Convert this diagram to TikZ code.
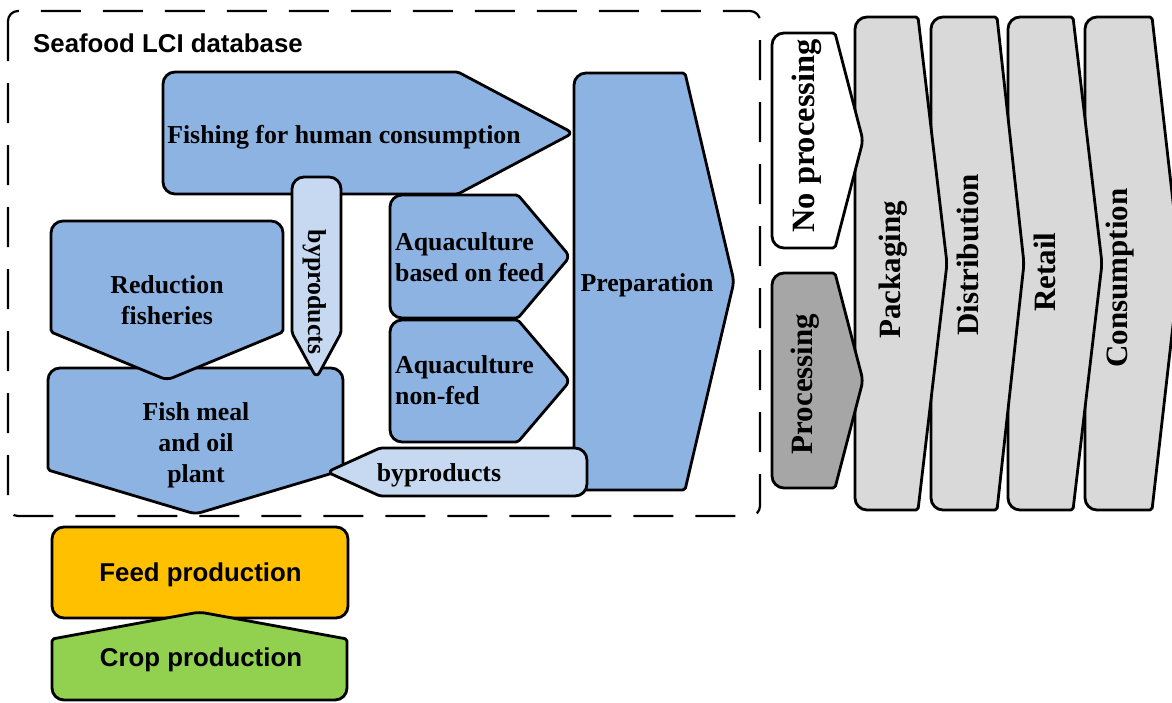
\documentclass[tikz,border=0pt]{standalone}
\usepackage{fontspec}
\setmainfont{Liberation Serif}
\newfontfamily\sansfont{Liberation Sans}
\definecolor{blueF}{HTML}{8DB3E2}
\definecolor{byF}{HTML}{C6D9F1}
\definecolor{greyF}{HTML}{D9D9D9}
\definecolor{darkF}{HTML}{A6A6A6}
\definecolor{feedF}{HTML}{FFC000}
\definecolor{cropF}{HTML}{92D050}
% right-pointing arrow: opts, left x, top y, shoulder x, tip x, bottom y
\newcommand\myrarrow[6]{%
  \path[#1] (#2,{(#3+#6)/2}) [bigrc] -- (#2,#3) -- ({(#2+#4)/2},#3) [smallrc] -- (#4,#3)
   -- ({(#4+#5)/2},{(3*#3+#6)/4}) [tiprc] -- (#5,{(#3+#6)/2})
   -- ({(#4+#5)/2},{(#3+3*#6)/4}) [smallrc] -- (#4,#6) -- ({(#2+#4)/2},#6) [bigrc] -- (#2,#6) -- cycle;}
% down-pointing arrow: opts, left x, top y, right x, shoulder y, tip y
\newcommand\mydarrow[6]{%
  \path[#1] ({(#2+#4)/2},#3) [bigrc] -- (#4,#3) -- (#4,{(#3+#5)/2}) [smallrc] -- (#4,#5)
   -- ({(3*#4+#2)/4},{(#5+#6)/2}) [tiprc] -- ({(#2+#4)/2},#6)
   -- ({(#4+3*#2)/4},{(#5+#6)/2}) [smallrc] -- (#2,#5) -- (#2,{(#3+#5)/2}) [bigrc] -- (#2,#3) -- cycle;}
% left-pointing arrow: opts, right x, top y, shoulder x, tip x, bottom y
\newcommand\mylarrow[6]{%
  \path[#1] (#2,{(#3+#6)/2}) [bigrc] -- (#2,#6) -- ({(#2+#4)/2},#6) [smallrc] -- (#4,#6)
   -- ({(#4+#5)/2},{(#3+3*#6)/4}) [tiprc] -- (#5,{(#3+#6)/2})
   -- ({(#4+#5)/2},{(3*#3+#6)/4}) [smallrc] -- (#4,#3) -- ({(#2+#4)/2},#3) [bigrc] -- (#2,#3) -- cycle;}
\begin{document}
\begin{tikzpicture}[x=1pt,y=-1pt,
  shp/.style={draw=black,line width=2.8pt,line join=round},
  bigrc/.style={rounded corners=12pt},
  smallrc/.style={rounded corners=2pt},
  tiprc/.style={rounded corners=6pt},
  tx/.style={inner sep=0pt,font=\bfseries\fontsize{25.8}{31}\selectfont},
  stx/.style={inner sep=0pt,font=\sansfont\bfseries\fontsize{25.8}{31}\selectfont},
  rtx/.style={inner sep=0pt,rotate=90,font=\bfseries\fontsize{31}{35}\selectfont}]
\useasboundingbox (0,0) rectangle (1172,702);

% dashed database frame
\draw[line width=2.2pt,dash pattern=on 40pt off 22pt,rounded corners=10pt] (8,11) rectangle (760,516);

% seafood LCI shapes
\myrarrow{shp,fill=blueF}{163}{72}{458}{573}{194}
\myrarrow{shp,fill=blueF}{574}{73}{685}{734}{490}
\mydarrow{shp,fill=blueF}{48}{368}{343}{470}{514}
\mydarrow{shp,fill=blueF}{51}{221}{283}{332}{380}
\mydarrow{shp,fill=byF}{292}{177}{341}{333}{378}
\myrarrow{shp,fill=blueF}{390}{195}{518}{570}{318}
\myrarrow{shp,fill=blueF}{390}{320}{518}{570}{442}
\mylarrow{shp,fill=byF}{587}{448}{380}{327}{496}

% downstream chain
\myrarrow{shp,fill=greyF}{1085}{17}{1152}{1180}{510}
\myrarrow{shp,fill=greyF}{1008}{17}{1073}{1102}{510}
\myrarrow{shp,fill=greyF}{931}{17}{997}{1024}{510}
\myrarrow{shp,fill=greyF}{855}{17}{918}{947}{510}
\myrarrow{shp,fill=white}{772}{33}{835}{863}{248}
\myrarrow{shp,fill=darkF}{772}{273}{835}{863}{488}

% feed and crop
\draw[shp,fill=feedF,rounded corners=12pt] (52,527) rectangle (348,618);
\mydarrow{shp,fill=cropF}{52}{700}{347}{639}{612}

% texts
\node[stx,anchor=base west] (title) at (33,52) {Seafood LCI database};
\node[tx,anchor=base] (fishtxt) at (344,143.5) {Fishing for human consumption};
\node[tx,align=center] (redtxt) at (167,300.5) {Reduction\\fisheries};
\node[tx,align=center] (fmtxt) at (196,445) {Fish meal\\and oil\\plant};
\node[tx,align=left,anchor=west] (aq1txt) at (395,257.5) {Aquaculture\\based on feed};
\node[tx,align=left,anchor=west] (aq2txt) at (395,380.5) {Aquaculture\\non-fed};
\node[tx,anchor=base] (preptxt) at (647,291) {Preparation};
\node[tx,anchor=base] (bp2txt) at (439,481) {byproducts};
\node[tx,rotate=-90] (bp1txt) at (315,292) {byproducts};
\node[rtx,font=\bfseries\fontsize{32.5}{36}\selectfont] (noproctxt) at (807,136) {No processing};
\node[rtx] (proctxt) at (805,384) {Processing};
\node[rtx] (packtxt) at (893,270) {Packaging};
\node[rtx] (disttxt) at (968,255) {Distribution};
\node[rtx] (rettxt) at (1045,272) {Retail};
\node[rtx] (constxt) at (1120,278) {Consumption};
\node[stx,anchor=base] (feedtxt) at (200.5,581.7) {Feed production};
\node[stx,anchor=base] (croptxt) at (201,666.8) {Crop production};
\end{tikzpicture}
\end{document}
